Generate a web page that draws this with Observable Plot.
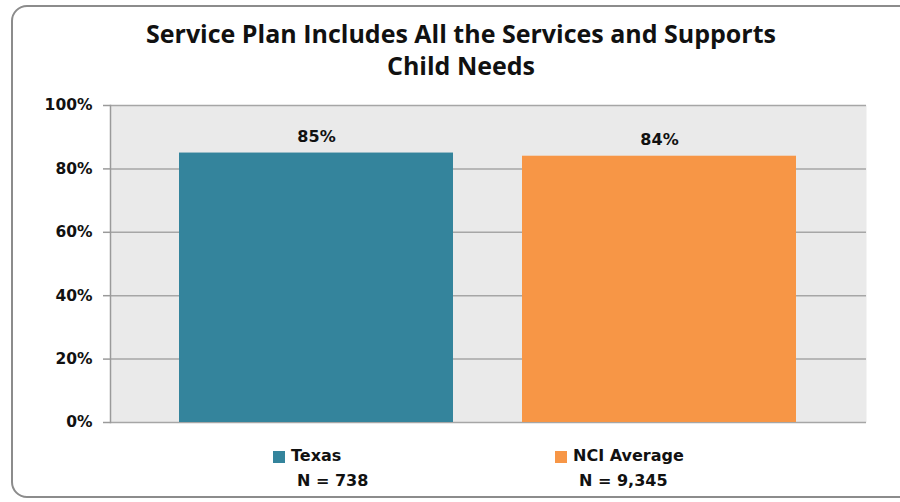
<!DOCTYPE html>
<html>
<head>
<meta charset="utf-8">
<script src="https://cdn.jsdelivr.net/npm/d3@7"></script>
<script src="https://cdn.jsdelivr.net/npm/@observablehq/plot@0.6"></script>
<style>
  html, body { margin: 0; padding: 0; background: #fff; }
  #wrap { position: relative; width: 900px; height: 502px; overflow: hidden; }
  #border { position: absolute; left: 11px; top: 5px; width: 905px; height: 493px;
            border: 2px solid #8c8c8c; border-radius: 16px; box-sizing: border-box; }
  #title { position: absolute; left: 0; top: 17px; width: 922px; text-align: center;
           font-family: "Open Sans", sans-serif; font-weight: 700; font-size: 25px;
           line-height: 32px; color: #111; }
  #chart { position: absolute; left: 0; top: 88px; }
  .leg { position: absolute; font-family: "DejaVu Sans", Verdana, sans-serif; font-weight: 700;
         font-size: 16px; color: #111; white-space: nowrap; }
  .sw { position: absolute; width: 12px; height: 12px; }
</style>
</head>
<body>
<div id="wrap">
  <div id="border"></div>
  <div id="title"></div>
  <div id="chart"></div>
  <div id="legend"></div>
</div>
<script>
const titleLines = ["Service Plan Includes All the Services and Supports", "Child Needs"];
const categories = ["Texas", "NCI Average"];
const values = [85, 84];
const sampleSizes = ["N = 738", "N = 9,345"];
const colors = ["#34849c", "#f79646"];
const yTicks = [0, 20, 40, 60, 80, 100];

document.getElementById("title").innerHTML = titleLines.join("<br>");

const data = categories.map((c, i) => ({name: c, value: values[i]}));

const chart = Plot.plot({
  width: 900,
  height: 350,
  marginLeft: 110,
  marginRight: 34,
  marginTop: 17,
  marginBottom: 16,
  style: {fontFamily: "'DejaVu Sans', Verdana, sans-serif", background: "transparent"},
  x: {domain: categories, padding: 0.2, axis: null},
  y: {domain: [0, 100]},
  color: {domain: categories, range: colors},
  marks: [
    Plot.frame({fill: "#eaeaea", stroke: null}),
    Plot.gridY(yTicks, {stroke: "#a6a6a6", strokeOpacity: 1, strokeWidth: 1.5}),
    Plot.barY(data, {x: "name", y: "value", fill: "name"}),
    Plot.frame({anchor: "left", stroke: "#9a9a9a", strokeWidth: 1.5}),
    Plot.axisY(yTicks, {tickSize: 7, tickPadding: 11, stroke: "#9a9a9a", strokeWidth: 1.5,
      tickFormat: d => d + "%", fontSize: 15.5, fontWeight: "bold", fill: "#111", label: null}),
    Plot.text(data, {x: "name", y: "value", text: d => d.value + "%", dy: -16,
      fontSize: 16, fontWeight: "bold", fill: "#111"})
  ]
});
document.getElementById("chart").appendChild(chart);

const legendPos = [{sx: 273, tx: 291, nx: 297}, {sx: 555, tx: 573, nx: 579}];
const leg = document.getElementById("legend");
categories.forEach((c, i) => {
  const p = legendPos[i];
  const sw = document.createElement("div");
  sw.className = "sw"; sw.style.left = p.sx + "px"; sw.style.top = "451px"; sw.style.background = colors[i];
  leg.appendChild(sw);
  const t = document.createElement("div");
  t.className = "leg"; t.style.left = p.tx + "px"; t.style.top = "446px"; t.textContent = c;
  leg.appendChild(t);
  const n = document.createElement("div");
  n.className = "leg"; n.style.left = p.nx + "px"; n.style.top = "471px"; n.textContent = sampleSizes[i];
  leg.appendChild(n);
});
</script>
</body>
</html>
